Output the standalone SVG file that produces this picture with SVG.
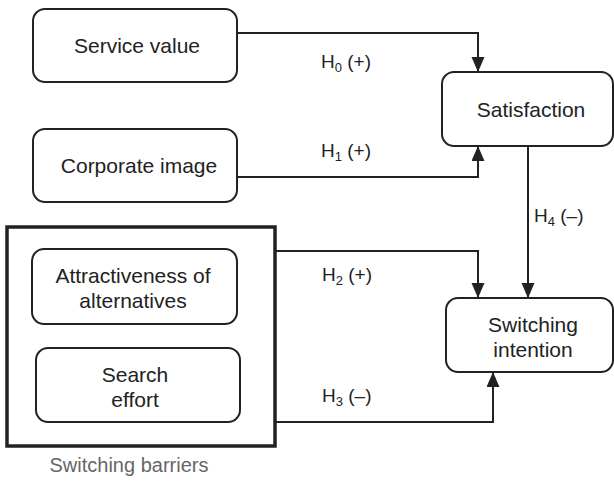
<svg xmlns="http://www.w3.org/2000/svg" width="614" height="481" viewBox="0 0 614 481">
<style>
.box{fill:#fff;stroke:#222;stroke-width:2}
.outer{fill:none;stroke:#222;stroke-width:3.5}
.t{font-family:"Liberation Sans",Arial,sans-serif;font-size:21px;fill:#222;text-anchor:middle}
.lbl{font-family:"Liberation Sans",Arial,sans-serif;font-size:19px;fill:#222}
.sub{font-size:13px}
.gray{font-family:"Liberation Sans",Arial,sans-serif;font-size:20px;fill:#666;text-anchor:middle}
.c{fill:none;stroke:#222;stroke-width:2}
</style>
<defs>
<marker id="ah" markerUnits="userSpaceOnUse" markerWidth="16" markerHeight="14" refX="15" refY="6.5" orient="auto">
<path d="M0,0 L15,6.5 L0,13 z" fill="#222"/>
</marker>
</defs>
<g id="barriers">
<rect class="outer" x="7" y="227" width="268" height="219"/>
<text class="gray" x="129" y="472">Switching barriers</text>
</g>
<g id="service-value">
<rect class="box" x="33" y="9" width="204" height="73" rx="12"/>
<text class="t" x="137" y="53">Service value</text>
</g>
<g id="corporate-image">
<rect class="box" x="33" y="129" width="204" height="73" rx="12"/>
<text class="t" x="139" y="173">Corporate image</text>
</g>
<g id="satisfaction">
<rect class="box" x="442" y="72" width="171" height="74" rx="12"/>
<text class="t" x="531" y="117">Satisfaction</text>
</g>
<g id="attractiveness">
<rect class="box" x="32" y="249" width="205" height="75" rx="12"/>
<text class="t" x="133" y="283">Attractiveness of</text>
<text class="t" x="133" y="308">alternatives</text>
</g>
<g id="search-effort">
<rect class="box" x="36" y="348" width="204" height="74" rx="12"/>
<text class="t" x="135" y="382">Search</text>
<text class="t" x="135" y="407">effort</text>
</g>
<g id="switching-intention">
<rect class="box" x="446" y="298" width="167" height="74" rx="12"/>
<text class="t" x="533" y="332">Switching</text>
<text class="t" x="533" y="357">intention</text>
</g>
<g id="connectors">
<path class="c" d="M237,33 H478 V72" marker-end="url(#ah)"/>
<path class="c" d="M237,177 H478 V146" marker-end="url(#ah)"/>
<path class="c" d="M528,146 V298" marker-end="url(#ah)"/>
<path class="c" d="M275,251 H478 V298" marker-end="url(#ah)"/>
<path class="c" d="M275,422 H493 V372" marker-end="url(#ah)"/>
<text class="lbl" x="321" y="68">H<tspan class="sub" dy="4">0</tspan><tspan dy="-4"> (+)</tspan></text>
<text class="lbl" x="321" y="157">H<tspan class="sub" dy="4">1</tspan><tspan dy="-4"> (+)</tspan></text>
<text class="lbl" x="534" y="222">H<tspan class="sub" dy="4">4</tspan><tspan dy="-4"> (–)</tspan></text>
<text class="lbl" x="322" y="281">H<tspan class="sub" dy="4">2</tspan><tspan dy="-4"> (+)</tspan></text>
<text class="lbl" x="322" y="402">H<tspan class="sub" dy="4">3</tspan><tspan dy="-4"> (–)</tspan></text>
</g>
</svg>
